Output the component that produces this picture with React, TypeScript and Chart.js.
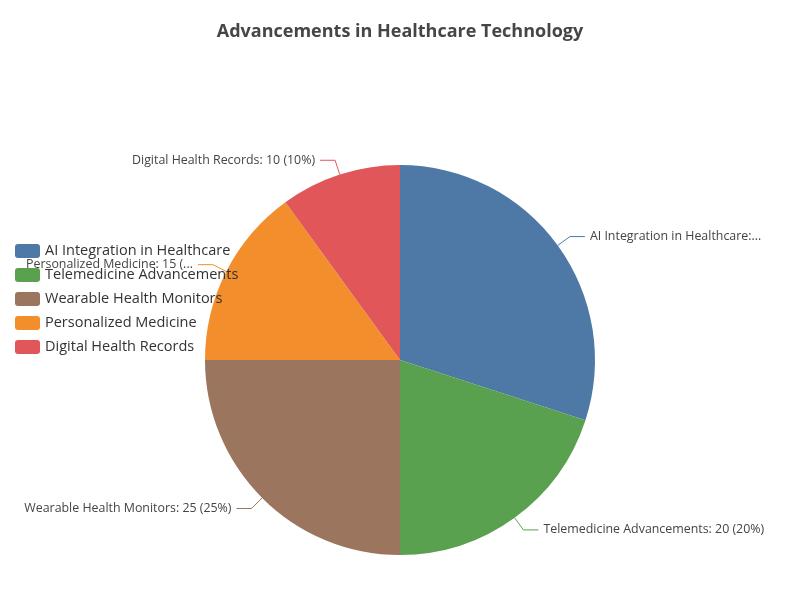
import React, { useEffect, useRef } from "react";
import { Chart, registerables } from "chart.js";

Chart.register(...registerables);

const chartTitle = "Advancements in Healthcare Technology";
const categories = [
  "AI Integration in Healthcare",
  "Telemedicine Advancements",
  "Wearable Health Monitors",
  "Personalized Medicine",
  "Digital Health Records",
];
const values = [30, 20, 25, 15, 10];
const colors = ["#4e79a7", "#59a14f", "#9c755f", "#f28e2b", "#e15759"];

const FONT = "'Open Sans', 'Noto Sans', sans-serif";

function truncate(ctx: CanvasRenderingContext2D, text: string, maxW: number) {
  if (ctx.measureText(text).width <= maxW) return text;
  let t = text;
  while (t.length > 0 && ctx.measureText(t.trimEnd() + "...").width > maxW) {
    t = t.slice(0, -1);
  }
  return t.trimEnd() + "...";
}

const overlayPlugin = {
  id: "overlay",
  afterDraw(chart: any) {
    const ctx: CanvasRenderingContext2D = chart.ctx;
    const W = chart.width;
    const meta = chart.getDatasetMeta(0);
    const data: number[] = chart.data.datasets[0].data;
    const total = data.reduce((a, b) => a + b, 0);
    const labels: string[] = chart.data.labels;
    const bg: string[] = chart.data.datasets[0].backgroundColor;

    // title
    ctx.save();
    ctx.font = `bold 18px ${FONT}`;
    ctx.fillStyle = "#464646";
    ctx.textAlign = "center";
    ctx.textBaseline = "middle";
    ctx.fillText(chartTitle, W / 2, 32);
    ctx.restore();

    // outer labels
    const len1 = 15;
    const len2 = 15;
    const marginLeft = 22;
    const marginRight = 35;
    meta.data.forEach((arc: any, i: number) => {
      const mid = (arc.startAngle + arc.endAngle) / 2;
      const r = arc.outerRadius;
      const cx = arc.x;
      const cy = arc.y;
      const x0 = cx + Math.cos(mid) * r;
      const y0 = cy + Math.sin(mid) * r;
      const x1 = cx + Math.cos(mid) * (r + len1);
      const y1 = cy + Math.sin(mid) * (r + len1);
      const right = Math.cos(mid) >= 0;
      const x2 = x1 + (right ? len2 : -len2);
      ctx.save();
      ctx.strokeStyle = bg[i];
      ctx.lineWidth = 1;
      ctx.beginPath();
      ctx.moveTo(x0, y0);
      ctx.lineTo(x1, y1);
      ctx.lineTo(x2, y1);
      ctx.stroke();
      ctx.font = `12.4px ${FONT}`;
      ctx.fillStyle = "#444";
      ctx.textBaseline = "middle";
      const pct = Math.round((data[i] / total) * 100);
      const full = `${labels[i]}: ${data[i]} (${pct}%)`;
      if (right) {
        const tx = x2 + 5;
        ctx.textAlign = "left";
        ctx.fillText(truncate(ctx, full, W - marginRight - tx), tx, y1);
      } else {
        const tx = x2 - 5;
        ctx.textAlign = "right";
        ctx.fillText(truncate(ctx, full, tx - marginLeft), tx, y1);
      }
      ctx.restore();
    });

    // legend
    ctx.save();
    const lx = 15;
    const ly0 = 251;
    const step = 24;
    labels.forEach((lab, i) => {
      const y = ly0 + i * step;
      ctx.fillStyle = bg[i];
      ctx.beginPath();
      (ctx as any).roundRect(lx, y - 7, 25, 14, 3);
      ctx.fill();
      ctx.font = `14.5px ${FONT}`;
      ctx.fillStyle = "#333";
      ctx.textAlign = "left";
      ctx.textBaseline = "middle";
      ctx.fillText(lab, lx + 30, y);
    });
    ctx.restore();
  },
};

export default function App() {
  const ref = useRef<HTMLCanvasElement | null>(null);
  useEffect(() => {
    if (!ref.current) return;
    const chart = new Chart(ref.current, {
      type: "pie",
      data: {
        labels: categories,
        datasets: [
          {
            data: values,
            backgroundColor: colors,
            borderWidth: 0,
          },
        ],
      },
      options: {
        responsive: false,
        animation: false,
        devicePixelRatio: 1,
        layout: { padding: { top: 165, bottom: 45, left: 205, right: 205 } },
        plugins: {
          legend: { display: false },
          title: { display: false },
          tooltip: { enabled: false },
        },
      },
      plugins: [overlayPlugin],
    });
    return () => chart.destroy();
  }, []);
  return (
    <div style={{ position: "fixed", left: 0, top: 0, width: 800, height: 600, background: "#fff" }}>
      <canvas ref={ref} width={800} height={600} style={{ width: 800, height: 600 }} />
    </div>
  );
}
